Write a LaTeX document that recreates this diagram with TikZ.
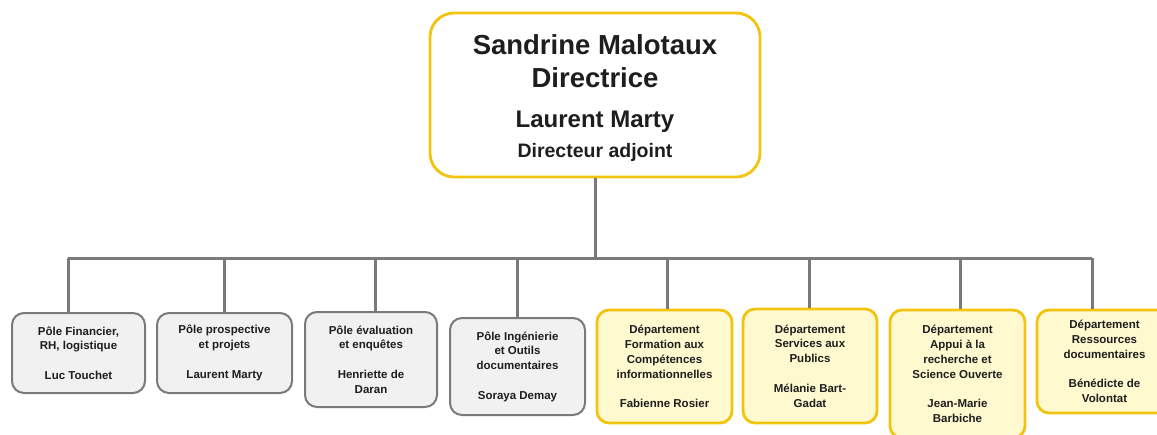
\documentclass[tikz,border=0pt]{standalone}
\usepackage{fontspec}
\setmainfont{Liberation Sans}
\definecolor{gold}{HTML}{F2C40F}
\definecolor{paleyel}{HTML}{FFF9D0}
\definecolor{greyfill}{HTML}{F1F1F1}
\definecolor{greyline}{HTML}{7A7A7A}
\definecolor{txt}{HTML}{1E1E1E}
\tikzset{
  box/.style={rounded corners=12pt, align=center, inner sep=0pt, text=txt,
    font=\fontsize{11.5}{14.8}\selectfont\bfseries},
  greybox/.style={box, draw=greyline, fill=greyfill, line width=2pt},
  yelbox/.style={box, draw=gold, fill=paleyel, line width=2.8pt},
  topbox/.style={rounded corners=24pt, draw=gold, fill=white, line width=2.8pt,
    align=center, inner sep=0pt, text=txt,
    font=\fontsize{27.5}{33}\selectfont\bfseries},
  conn/.style={draw=greyline, line width=3pt}
}
\begin{document}
\begin{tikzpicture}[x=1pt,y=-1pt]
\clip (0,0) rectangle (1157,434);
\useasboundingbox (0,0) rectangle (1157,434);
\fill[white] (0,0) rectangle (1157,434);
% top
\node[topbox, minimum width=330, minimum height=164] (top) at (595,95)
  {\rule{0pt}{26pt}Sandrine Malotaux\\Directrice\\[7pt]{\fontsize{24}{33}\selectfont\bfseries Laurent Marty}\\[-3pt]{\fontsize{19.5}{33}\selectfont\bfseries Directeur adjoint}};
% bus coordinates
\coordinate (b1) at (68,258);
\coordinate (b2) at (224,258);
\coordinate (b3) at (375,258);
\coordinate (b4) at (517,258);
\coordinate (b5) at (667,258);
\coordinate (b6) at (809,258);
\coordinate (b7) at (960,258);
\coordinate (b8) at (1092,258);
% boxes
\node[greybox, minimum width=133, minimum height=80] (n1) at (78.5,353)
  {Pôle Financier,\\RH, logistique\\[14.8pt]Luc Touchet};
\node[greybox, minimum width=135, minimum height=80] (n2) at (224.5,353)
  {Pôle prospective\\et projets\\[14.8pt]Laurent Marty};
\node[greybox, minimum width=132, minimum height=95] (n3) at (371,359.5)
  {Pôle évaluation\\et enquêtes\\[14.8pt]Henriette de\\Daran};
\node[greybox, minimum width=135, minimum height=97] (n4) at (517.5,366.5)
  {Pôle Ingénierie\\et Outils\\documentaires\\[14.8pt]Soraya Demay};
\node[yelbox, minimum width=135, minimum height=113] (n5) at (664.5,366.5)
  {Département\\Formation aux\\Compétences\\informationnelles\\[14.8pt]Fabienne Rosier};
\node[yelbox, minimum width=134, minimum height=114] (n6) at (810,366)
  {Département\\Services aux\\Publics\\[14.8pt]Mélanie Bart-\\Gadat};
\node[yelbox, minimum width=135, minimum height=128] (n7) at (957.5,374)
  {Département\\Appui à la\\recherche et\\Science Ouverte\\[14.8pt]Jean-Marie\\Barbiche};
\node[yelbox, minimum width=135, minimum height=103] (n8) at (1104.5,361.5)
  {Département\\Ressources\\documentaires\\[14.8pt]Bénédicte de\\Volontat};
% connectors
\draw[conn] (top.south) -- (top.south |- b1);
\draw[conn] (b1) -- (b8);
\foreach \i in {1,...,8} {
  \draw[conn] (b\i) -- (b\i |- n\i.north);
}
\end{tikzpicture}
\end{document}
